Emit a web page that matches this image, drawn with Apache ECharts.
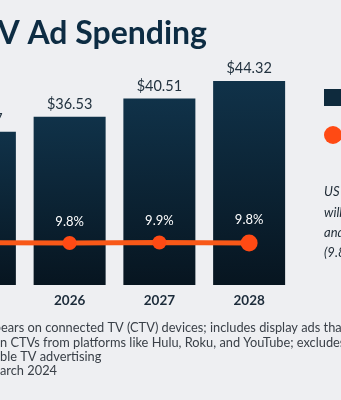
<!DOCTYPE html>
<html><head><meta charset="utf-8">
<script src="https://cdn.jsdelivr.net/npm/echarts@6/dist/echarts.min.js"></script>
<style>html,body{margin:0;padding:0;background:#eeeff2;}#c{width:341px;height:400px;}</style>
</head><body><div id="c"></div>
<script>
const years = ['2025', '2026', '2027', '2028'];
const spending = [33.27, 36.53, 40.51, 44.32];
const growth = [9.9, 9.8, 9.9, 9.8];

const chart = echarts.init(document.getElementById('c'), null, {renderer: 'canvas'});
const F = 'Lato, "Open Sans", sans-serif';
const orange = '#ff4a14';
const fn = '12.8px ' + F;
const fc = '#3a4048';

chart.setOption({
  backgroundColor: '#eeeff2',
  animation: false,
  grid: {left: -65, right: 47, top: 81, bottom: 115, outerBoundsMode: 'none', containLabel: false},
  xAxis: {
    type: 'category', data: years,
    axisLine: {show: false}, axisTick: {show: false},
    axisLabel: {margin: 9, fontFamily: F, fontSize: 13.5, fontWeight: 'bold', color: '#1c2b3a'}
  },
  yAxis: [
    {type: 'value', min: 0, max: 44.32, show: false, splitLine: {show: false}},
    {type: 'value', min: 0, max: 47.6, show: false, splitLine: {show: false}}
  ],
  series: [
    {
      type: 'bar', data: spending, barWidth: 72, yAxisIndex: 0,
      itemStyle: {color: new echarts.graphic.LinearGradient(0, 0, 0, 1, [
        {offset: 0, color: '#103249'}, {offset: 1, color: '#071520'}])},
      label: {show: true, position: 'top', distance: 5, fontFamily: F, fontSize: 14.5,
        color: '#22323f', formatter: p => '$' + p.value.toFixed(2)}
    },
    {
      type: 'line', data: growth.map((v, i) => ({value: v, symbolSize: i === 3 ? 17 : 14})),
      yAxisIndex: 1, symbol: 'circle',
      lineStyle: {color: '#f85818', width: 5},
      itemStyle: {color: orange},
      label: {show: true, position: 'top', distance: 8, fontFamily: F, fontSize: 13,
        color: '#ffffff', formatter: p => p.value.toFixed(1) + '%'}
    }
  ],
  graphic: [
    {type: 'text', x: 207, y: 34, style: {text: 'US CTV Ad Spending', align: 'right', verticalAlign: 'middle',
      font: 'bold 32px ' + F, fill: '#0d2c43'}},
    {type: 'rect', x: 324, y: 89, shape: {width: 40, height: 17}, style: {fill: '#0e2a3d'}},
    {type: 'circle', x: 333, y: 135, shape: {r: 9}, style: {fill: orange}},
    {type: 'text', x: 324, y: 192, style: {text: 'US CTV ad spending', verticalAlign: 'middle', font: 'italic 13px ' + F, fill: '#1e2a35'}},
    {type: 'text', x: 324, y: 213, style: {text: 'will grow steadily,', verticalAlign: 'middle', font: 'italic 13px ' + F, fill: '#1e2a35'}},
    {type: 'text', x: 324, y: 233, style: {text: 'and hold growth', verticalAlign: 'middle', font: 'italic 13px ' + F, fill: '#1e2a35'}},
    {type: 'text', x: 324, y: 253, style: {text: '(9.8%-9.9%)', verticalAlign: 'middle', font: 'italic 13px ' + F, fill: '#1e2a35'}},
    {type: 'text', x: 1, y: 328, style: {text: 'Note: digital advertising that app', align: 'right', verticalAlign: 'middle', font: fn, fill: fc}},
    {type: 'text', x: 1, y: 328, style: {text: 'ears on connected TV (CTV) devices; includes display ads that', verticalAlign: 'middle', font: fn, fill: fc}},
    {type: 'text', x: 0, y: 343, style: {text: 'appear o', align: 'right', verticalAlign: 'middle', font: fn, fill: fc}},
    {type: 'text', x: 0, y: 343, style: {text: 'n CTVs from platforms like Hulu, Roku, and YouTube; excludes', verticalAlign: 'middle', font: fn, fill: fc}},
    {type: 'text', x: 0, y: 357, style: {text: 'traditional TV and addressa', align: 'right', verticalAlign: 'middle', font: fn, fill: fc}},
    {type: 'text', x: 0, y: 357, style: {text: 'ble TV advertising', verticalAlign: 'middle', font: fn, fill: fc}},
    {type: 'text', x: 0, y: 371, style: {text: 'Source: EMARKETER Forecast, M', align: 'right', verticalAlign: 'middle', font: fn, fill: fc}},
    {type: 'text', x: 0, y: 371, style: {text: 'arch 2024', verticalAlign: 'middle', font: fn, fill: fc}}
  ]
});
</script></body></html>
